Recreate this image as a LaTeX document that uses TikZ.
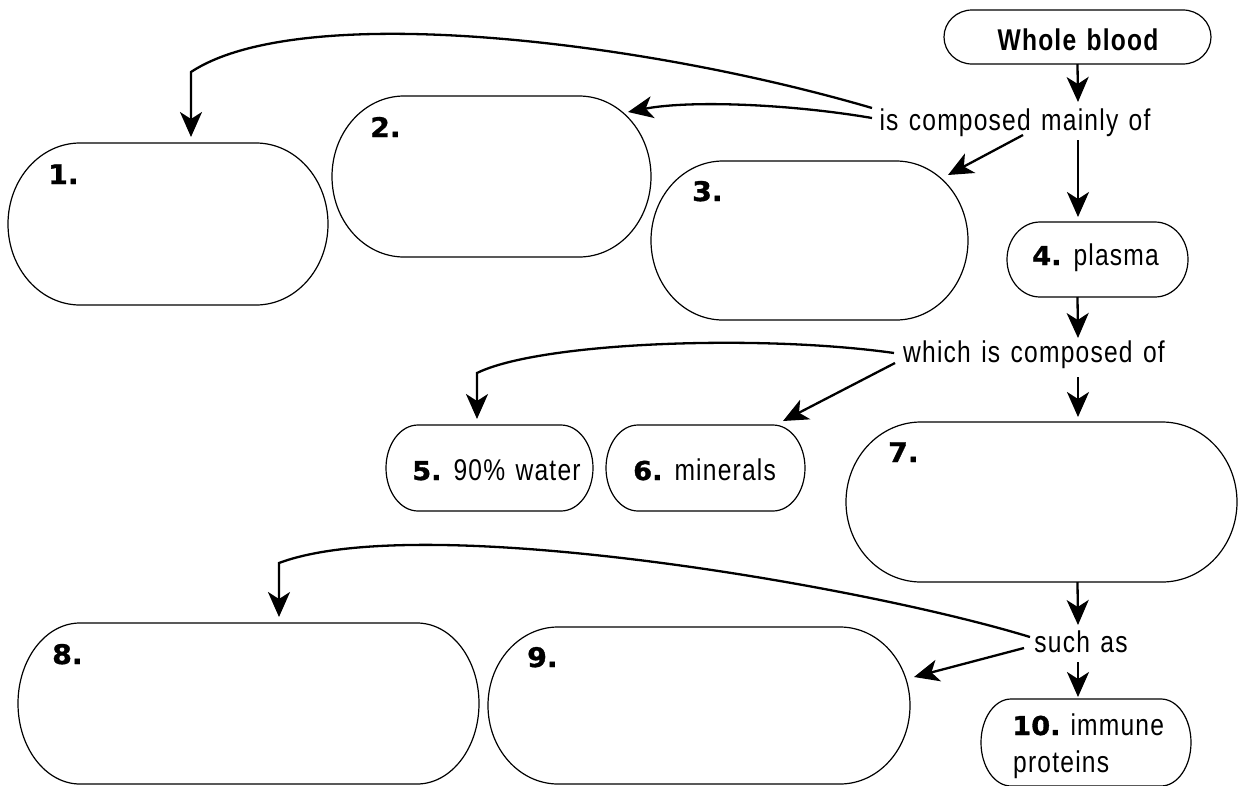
\documentclass[tikz,border=0pt]{standalone}
\usepackage{fontspec}
\setmainfont{Liberation Sans}[FakeStretch=0.82, LetterSpace=4, WordSpace=1.3]
\newfontfamily\numfont{DejaVu Sans}[FakeStretch=1.05, BoldFeatures={FakeBold=1.2}]
\usetikzlibrary{arrows.meta}
\newcommand\nm[1]{{\numfont\bfseries\fontsize{26}{30}\selectfont #1}}
\newcommand\blob[6]{%
  \node[area, minimum width={(#4-#2)*1pt}, minimum height={(#5-#3)*1pt}] (#1) at ({(#2+#4)/2},{-(#3+#5)/2}) {};
  \draw[boxline] ([xshift=#6pt]#1.north west) -- ([xshift=-#6pt]#1.north east)
    arc[start angle=90, end angle=-90, x radius=#6, y radius={(#5-#3)/2}]
    -- ([xshift=#6pt]#1.south west)
    arc[start angle=270, end angle=90, x radius=#6, y radius={(#5-#3)/2}] -- cycle;
}
\tikzset{
  area/.style={inner sep=0pt, outer sep=0pt, draw=none},
  boxline/.style={line width=1.2pt},
  conn/.style={line width=2.3pt, -{Stealth[length=25pt,width=22pt,inset=7pt]}},
  link/.style={inner sep=0pt, font=\fontsize{30}{34}\selectfont, anchor=base},
  num/.style={inner sep=0pt, font=\numfont\bfseries\fontsize{27}{30}\selectfont, anchor=base west},
  txt/.style={inner sep=0pt, font=\fontsize{30}{34}\selectfont, anchor=base west},
}
\begin{document}
\begin{tikzpicture}[x=1pt, y=1pt]
\useasboundingbox (0,0) rectangle (1251,-785);
% boxes
\blob{wb}{944}{10}{1211}{64}{28}
\blob{b1}{8}{143}{328}{305}{72}
\blob{b2}{332}{96}{651}{257}{72}
\blob{b3}{651}{161}{968}{320}{72}
\blob{b4}{1007}{222}{1188}{297}{33}
\blob{b5}{386}{425}{593}{511}{32}
\blob{b6}{606}{425}{805}{511}{32}
\blob{b7}{846}{422}{1237}{582}{75}
\blob{b8}{18}{623}{479}{784}{62}
\blob{b9}{488}{627}{910}{784}{70}
\blob{b10}{981}{699}{1191}{786}{30}
% texts
\node[link, font=\bfseries\fontsize{30}{34}\selectfont] (wbt) at (1078,-50) {Whole blood};
\node[link] (iscomp) at (1015,-130) {is composed mainly of};
\node[link] (which) at (1034,-362) {which is composed of};
\node[link] (such) at (1081,-652) {such as};
\node[num] (l1) at (48,-184) {1.};
\node[num] (l2) at (370,-137) {2.};
\node[num] (l3) at (692,-201) {3.};
\node[num] (l7) at (888,-462) {7.};
\node[num] (l8) at (52,-664) {8.};
\node[num] (l9) at (527,-667) {9.};
\node[txt] (t4) at (1032,-265) {\nm{4.}\hspace{12pt}plasma};
\node[txt] (t5) at (412,-480) {\nm{5.}\hspace{12pt}90\% water};
\node[txt] (t6) at (633,-480) {\nm{6.}\hspace{12pt}minerals};
\node[txt] (t10a) at (1012,-735) {\nm{10.}\hspace{10pt}immune};
\node[txt] (t10b) at (1013,-772) {proteins};
% connector end points
\coordinate (k1) at (1078,-102);
\coordinate (s2) at (1078,-140);
\coordinate (k2) at (1078,-217);
\coordinate (s3) at (1023,-135);
\coordinate (k3) at (948,-175);
\coordinate (s4) at (872,-118);
\coordinate (k4) at (628,-112);
\coordinate (s5) at (872,-108);
\coordinate (m5) at (191,-72);
\coordinate (k5) at (191,-137);
\coordinate (k6) at (1078,-338);
\coordinate (s7) at (1078,-377);
\coordinate (k7) at (1078,-417);
\coordinate (s8) at (894,-353);
\coordinate (m8) at (477,-373);
\coordinate (k8) at (477,-419);
\coordinate (s9) at (895,-363);
\coordinate (k9) at (783,-421);
\coordinate (k10) at (1078,-625);
\coordinate (s11) at (1078,-662);
\coordinate (k11) at (1078,-697);
\coordinate (s12) at (1030,-637);
\coordinate (m12) at (279,-563);
\coordinate (k12) at (279,-617);
\coordinate (s13) at (1024,-648);
\coordinate (k13) at (914,-677);
% connectors
\draw[conn] (wb.south) -- (k1);
\draw[conn] (s2) -- (k2);
\draw[conn] (s3) -- (k3);
\draw[conn] (s4) .. controls (790,-104) and (690,-100) .. (k4);
\draw[conn] (s5) .. controls (640,-40) and (300,0) .. (m5) -- (k5);
\draw[conn] (b4.south -| wb.south) -- (k6);
\draw[conn] (s7) -- (k7);
\draw[conn] (s8) .. controls (760,-334) and (540,-342) .. (m8) -- (k8);
\draw[conn] (s9) -- (k9);
\draw[conn] (b7.south -| wb.south) -- (k10);
\draw[conn] (s11) -- (k11);
\draw[conn] (s12) .. controls (860,-585) and (420,-510) .. (m12) -- (k12);
\draw[conn] (s13) -- (k13);
\end{tikzpicture}
\end{document}
